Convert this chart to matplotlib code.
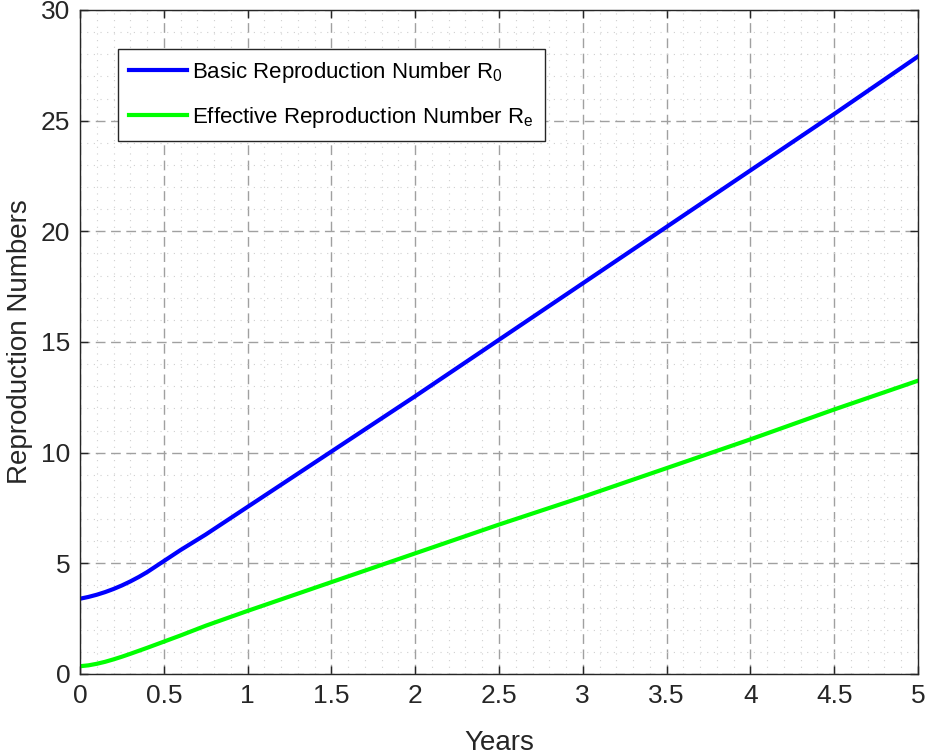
import matplotlib
matplotlib.use('Agg')
import matplotlib.pyplot as plt
from matplotlib.ticker import MultipleLocator

plt.rcParams['font.family'] = ['Liberation Sans', 'DejaVu Sans']
plt.rcParams['mathtext.fontset'] = 'custom'
plt.rcParams['mathtext.rm'] = 'Liberation Sans'
plt.rcParams['mathtext.it'] = 'Liberation Sans'
plt.rcParams['mathtext.default'] = 'regular'

# values
years_r0 = [0, 0.05, 0.1, 0.15, 0.2, 0.25, 0.3, 0.35, 0.4, 0.5, 0.6, 0.75, 1, 1.25, 1.5, 1.75, 2, 2.5, 3, 3.5, 4, 4.5, 5]
r0 = [3.4, 3.48, 3.58, 3.7, 3.84, 4.0, 4.18, 4.38, 4.6, 5.1, 5.6, 6.3, 7.55, 8.8, 10.05, 11.3, 12.55, 15.1, 17.65, 20.2, 22.75, 25.3, 27.9]
years_re = [0, 0.05, 0.1, 0.15, 0.2, 0.25, 0.3, 0.4, 0.5, 0.6, 0.75, 1, 1.5, 2, 2.5, 3, 3.5, 4, 4.5, 5]
re = [0.35, 0.39, 0.46, 0.55, 0.66, 0.78, 0.91, 1.18, 1.46, 1.74, 2.18, 2.85, 4.15, 5.45, 6.75, 8.0, 9.3, 10.6, 11.95, 13.25]
x_ticks = [0, 0.5, 1, 1.5, 2, 2.5, 3, 3.5, 4, 4.5, 5]
y_ticks = [0, 5, 10, 15, 20, 25, 30]

axcol = '#262626'
fig = plt.figure(figsize=(9.25, 7.56), dpi=100)
ax = fig.add_axes([0.0865, 0.1085, 0.9059, 0.8783])

ax.plot(years_r0, r0, color='#0000ff', linewidth=3, label='Basic Reproduction Number R$_0$')
ax.plot(years_re, re, color='#00ff00', linewidth=3, label='Effective Reproduction Number R$_e$')

ax.set_xlim(0, 5)
ax.set_ylim(0, 30)
ax.set_xticks(x_ticks)
ax.set_xticklabels([f'{t:g}' for t in x_ticks])
ax.set_yticks(y_ticks)
ax.xaxis.set_minor_locator(MultipleLocator(0.1))
ax.yaxis.set_minor_locator(MultipleLocator(1))

ax.grid(which='major', color='#a0a0a0', linestyle=(0, (7, 4)), linewidth=1.0)
ax.grid(which='minor', color='#d0d0d0', linestyle=(0, (1, 5)), linewidth=0.8)
ax.set_axisbelow(True)

ax.tick_params(which='major', direction='in', top=True, right=True, length=6,
               width=1, color=axcol, labelsize=19, labelcolor=axcol, pad=7)
ax.tick_params(which='minor', length=0, top=True, right=True)
for s in ax.spines.values():
    s.set_color(axcol)
    s.set_linewidth(1.0)

ax.set_xlabel('Years', fontsize=20, color=axcol, labelpad=16)
ax.set_ylabel('Reproduction Numbers', fontsize=20, color=axcol, labelpad=6)

leg = ax.legend(loc='upper left', bbox_to_anchor=(0.045, 0.941), borderaxespad=0,
                fontsize=16, fancybox=False, framealpha=1, edgecolor=axcol,
                handlelength=2.6, labelspacing=0.9, borderpad=0.5, handletextpad=0.25)
leg.get_frame().set_linewidth(1.0)

plt.savefig('out.png', dpi=100)
plt.close()
